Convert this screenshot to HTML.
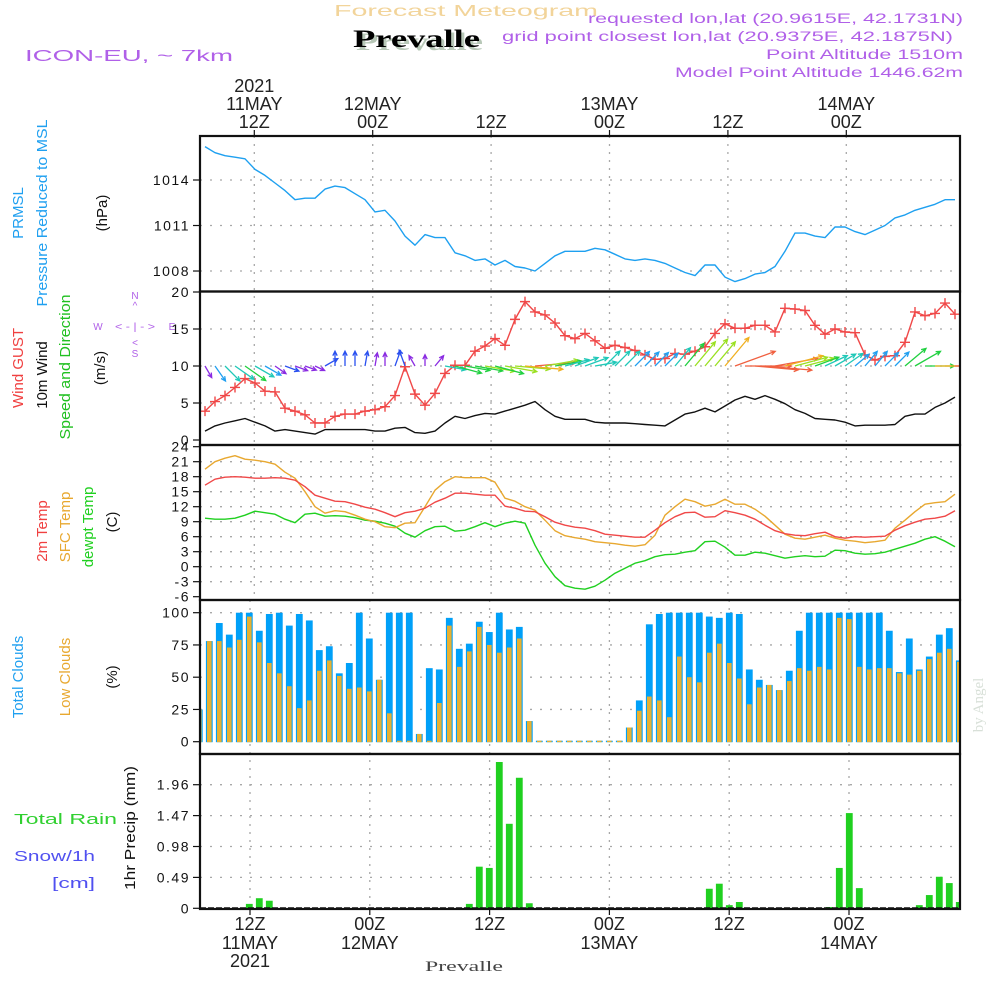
<!DOCTYPE html>
<html><head><meta charset="utf-8">
<style>
html,body{margin:0;padding:0;background:#fff;}
svg{display:block;font-family:"Liberation Sans",sans-serif;}
</style></head>
<body>
<svg id="chart" width="1000" height="1000" viewBox="0 0 1000 1000" xmlns="http://www.w3.org/2000/svg">
<rect x="0" y="0" width="1000" height="1000" fill="#fff"/>
<text x="334" y="16" font-size="16" fill="#f2d49a" textLength="264" lengthAdjust="spacingAndGlyphs">Forecast Meteogram</text>
<text x="356" y="50" font-family="Liberation Serif,serif" font-weight="bold" font-size="25" fill="#b8c8b8" textLength="127" lengthAdjust="spacingAndGlyphs">Prevalle</text>
<text x="353" y="47" font-family="Liberation Serif,serif" font-weight="bold" font-size="25" fill="#000" textLength="127" lengthAdjust="spacingAndGlyphs">Prevalle</text>
<text x="25" y="61" font-size="16" fill="#b060e8" textLength="208" lengthAdjust="spacingAndGlyphs">ICON-EU, ~ 7km</text>
<text x="588" y="23" font-size="13.5" fill="#b060e8" textLength="375" lengthAdjust="spacingAndGlyphs">requested lon,lat (20.9615E, 42.1731N)</text>
<text x="502" y="41" font-size="13.5" fill="#b060e8" textLength="451" lengthAdjust="spacingAndGlyphs">grid point closest lon,lat (20.9375E, 42.1875N)</text>
<text x="766" y="59" font-size="13.5" fill="#b060e8" textLength="197" lengthAdjust="spacingAndGlyphs">Point Altitude 1510m</text>
<text x="675" y="77" font-size="13.5" fill="#b060e8" textLength="288" lengthAdjust="spacingAndGlyphs">Model Point Altitude 1446.62m</text>
<g font-size="15">
<text transform="translate(23,213) rotate(-90)" text-anchor="middle" fill="#20a0f0">PRMSL</text>
<text transform="translate(47,213) rotate(-90)" text-anchor="middle" fill="#20a0f0" textLength="187" lengthAdjust="spacingAndGlyphs">Pressure Reduced to MSL</text>
<text transform="translate(107,213) rotate(-90)" text-anchor="middle" fill="#111">(hPa)</text>
<text transform="translate(23,368) rotate(-90)" text-anchor="middle" fill="#f04040">Wind GUST</text>
<text transform="translate(47,375) rotate(-90)" text-anchor="middle" fill="#111">10m Wind</text>
<text transform="translate(70,367) rotate(-90)" text-anchor="middle" fill="#20c020" textLength="145" lengthAdjust="spacingAndGlyphs">Speed and Direction</text>
<text transform="translate(105,368) rotate(-90)" text-anchor="middle" fill="#111">(m/s)</text>
<text transform="translate(47,531) rotate(-90)" text-anchor="middle" fill="#f04040">2m Temp</text>
<text transform="translate(70,527) rotate(-90)" text-anchor="middle" fill="#e8a830">SFC Temp</text>
<text transform="translate(93,527) rotate(-90)" text-anchor="middle" fill="#20d020">dewpt Temp</text>
<text transform="translate(117,522) rotate(-90)" text-anchor="middle" fill="#111">(C)</text>
<text transform="translate(23,677) rotate(-90)" text-anchor="middle" fill="#20a0f0">Total Clouds</text>
<text transform="translate(70,677) rotate(-90)" text-anchor="middle" fill="#e8a830">Low Clouds</text>
<text transform="translate(117,677) rotate(-90)" text-anchor="middle" fill="#111">(%)</text>
<text transform="translate(135,828) rotate(-90)" text-anchor="middle" fill="#111" textLength="124" lengthAdjust="spacingAndGlyphs">1hr Precip (mm)</text>
<text x="14" y="824" fill="#30d030" textLength="103" lengthAdjust="spacingAndGlyphs">Total   Rain</text>
<text x="14" y="861" fill="#5050f0" textLength="81" lengthAdjust="spacingAndGlyphs">Snow/1h</text>
<text x="52" y="888" fill="#5050f0" textLength="43" lengthAdjust="spacingAndGlyphs">[cm]</text>
</g>
<g font-size="10" fill="#b060e8" text-anchor="middle">
<text x="135" y="299">N</text><text x="135" y="309">^</text>
<text x="98" y="330">W</text><text x="135" y="330" textLength="40" lengthAdjust="spacingAndGlyphs">&lt; - | - &gt;</text><text x="172" y="330">E</text>
<text x="135" y="346">&lt;</text><text x="135" y="357">S</text>
</g>
<text transform="translate(983,705) rotate(-90)" text-anchor="middle" font-family="Liberation Serif,serif" font-size="15" fill="#d8e0d8">by Angel</text>
<text x="425" y="971" font-family="Liberation Serif,serif" font-size="15" fill="#444" textLength="78" lengthAdjust="spacingAndGlyphs">Prevalle</text>
<g id="plot"></g>
</svg>
<script>
const pressure = [1016.2,1015.8,1015.6,1015.5,1015.4,1014.7,1014.3,1013.8,1013.3,1012.7,
1012.8,1012.8,1013.4,1013.6,1013.5,1013.1,1012.7,1011.9,1012.0,1011.3,
1010.3,1009.7,1010.4,1010.2,1010.2,1009.2,1009.0,1008.7,1008.8,1008.4,
1008.7,1008.3,1008.2,1008.0,1008.5,1009.0,1009.3,1009.3,1009.3,1009.5,
1009.4,1009.1,1008.8,1008.7,1008.8,1008.7,1008.5,1008.2,1007.9,1007.7,
1008.4,1008.4,1007.6,1007.3,1007.5,1007.8,1007.9,1008.3,1009.3,1010.5,
1010.5,1010.3,1010.2,1010.9,1010.9,1010.6,1010.4,1010.7,1011.0,1011.5,
1011.7,1012.0,1012.2,1012.4,1012.7,1012.7];
const gust = [3.9,5.2,6.0,7.1,8.3,7.7,6.6,6.5,4.3,3.9,
3.4,2.3,2.3,3.2,3.5,3.5,3.9,4.1,4.5,6.0,
9.9,6.2,4.7,6.3,9.0,10.1,10.1,12.0,12.7,13.7,
12.8,16.3,18.7,17.3,16.9,15.8,14.1,13.7,14.4,13.4,
12.4,12.8,12.5,12.1,11.5,10.9,11.0,11.7,11.6,12.0,
12.6,14.4,15.7,15.1,15.1,15.5,15.5,14.6,17.8,17.7,
17.5,15.5,14.3,15.0,14.6,14.5,11.5,10.8,11.3,11.4,
13.2,17.3,16.8,17.1,18.5,17.0];
const wind10 = [1.2,1.9,2.3,2.6,2.9,2.4,1.9,1.2,1.4,1.2,
1.0,0.8,1.4,1.4,1.4,1.4,1.4,1.2,1.2,1.6,
1.7,1.0,0.9,1.2,2.3,3.2,2.9,3.3,3.6,3.5,
3.9,4.3,4.7,5.2,4.1,3.2,2.8,2.8,2.8,2.4,
2.3,2.3,2.3,2.2,2.1,2.0,1.9,2.7,3.5,3.8,
4.3,3.8,4.6,5.4,5.9,5.5,6.0,5.5,4.9,4.1,
3.6,2.9,2.8,2.7,2.4,1.9,2.0,2.0,2.0,2.1,
3.2,3.5,3.5,4.4,5.0,5.8];
const windDir = [150,145,135,125,125,120,120,125,110,110,
110,115,60,0,0,0,10,10,0,20,
340,330,0,40,100,105,100,100,100,105,
100,95,95,85,80,80,75,70,70,80,
45,45,45,45,45,45,45,40,40,40,
40,40,40,70,90,95,95,80,75,75,
75,70,65,60,55,50,40,40,45,45,
50,60,90,90,90,90];
const temp2m = [16.3,17.5,17.9,18.0,17.9,17.7,17.7,17.8,17.7,17.3,
16.0,14.3,13.7,13.1,13.0,12.5,11.9,11.5,10.8,10.0,
10.8,11.1,11.7,12.9,13.7,14.7,14.7,14.5,14.3,14.3,
12.1,11.7,11.1,11.0,10.0,8.9,8.3,7.9,7.7,7.2,
6.5,6.3,6.1,5.9,5.9,7.3,8.8,10.0,10.8,10.9,
9.9,10.0,11.2,10.8,10.3,9.5,8.3,7.2,6.6,6.3,
6.2,6.6,6.9,6.0,5.7,6.0,5.9,6.0,6.1,7.3,
8.2,8.9,9.5,9.7,10.1,11.2];
const sfcTemp = [19.5,21.0,21.7,22.2,21.5,21.3,21.0,20.5,18.9,17.7,
15.0,12.0,10.7,11.2,11.0,10.3,9.5,9.0,8.0,7.8,
8.7,8.8,12.0,15.3,17.0,18.0,17.8,17.8,17.8,16.9,
13.7,13.1,12.0,11.3,9.3,7.2,6.2,5.8,5.5,5.0,
4.8,4.6,4.3,4.1,4.4,6.3,10.3,12.0,13.5,13.0,
12.1,12.5,13.5,12.5,12.5,11.5,10.1,8.3,6.5,5.7,
5.5,5.9,6.3,5.7,5.3,5.1,4.8,5.0,5.3,7.7,
9.3,11.0,12.5,12.8,13.0,14.5];
const dewpt = [9.7,9.5,9.5,9.7,10.3,11.1,10.8,10.5,9.5,8.8,
10.5,10.7,10.1,10.2,10.1,9.8,9.3,9.1,8.7,8.1,
6.7,5.9,7.2,8.0,8.1,7.1,7.3,8.0,8.8,8.0,
8.7,9.1,8.7,4.3,0.7,-2.0,-3.8,-4.3,-4.5,-3.9,
-2.7,-1.3,-0.3,0.7,1.2,2.0,2.4,2.5,2.9,3.2,
5.0,5.1,3.9,2.3,2.3,2.9,2.7,2.2,1.7,2.0,
2.2,2.0,2.1,3.3,3.2,2.7,2.5,2.6,2.9,3.5,
4.1,4.7,5.5,6.0,5.1,4.0];
const totalClouds = [25,78,92,83,100,100,86,99,100,90,
99,94,71,74,53,61,100,80,48,100,
100,100,6,57,56,96,72,76,93,85,
100,87,89,16,0,0,0,0,0,0,
0,0,0,11,32,91,99,100,100,100,
100,97,96,100,99,56,48,44,40,55,
86,100,100,100,100,100,100,100,100,86,
54,80,56,66,83,88,63];
const lowClouds = [25,78,78,73,79,97,77,61,53,43,
26,32,55,63,51,41,42,39,48,22,
0.5,0.5,6,0.5,30,90,58,70,89,75,
69,73,80,16,0,0,0,0,0,0,
0,0,0,11,24,35,32,19,66,50,
46,69,76,61,49,29,42,44,40,47,
57,55,58,56,96,95,58,56,57,57,
53,52,55,64,69,72,62];
const precip = [0,0,0,0,0,0.07,0.16,0.12,0,0,
0,0,0,0,0,0,0,0,0,0,
0,0,0,0,0,0,0,0.07,0.66,0.64,
2.32,1.34,2.07,0.08,0,0,0,0,0,0,
0,0,0,0,0,0,0,0,0,0,
0,0.31,0.39,0.05,0.10,0,0,0,0,0,
0,0,0,0.02,0.64,1.51,0.32,0,0,0,
0,0,0.05,0.21,0.50,0.40,0.10];
const pressureTicks = [1008,1011,1014];
const windTicks = [0,5,10,15,20];
const tempTicks = [-6,-3,0,3,6,9,12,15,18,21,24];
const cloudTicks = [0,25,50,75,100];
const precipTicks = [0,0.49,0.98,1.47,1.96];
const precipTickLabels = ["0","0.49","0.98","1.47","1.96"];
const timeTicksTop = [["2021","11MAY","12Z"],["","12MAY","00Z"],["","","12Z"],["","13MAY","00Z"],["","","12Z"],["","14MAY","00Z"]];
const timeTicksBottom = [["12Z","11MAY","2021"],["00Z","12MAY",""],["12Z","",""],["00Z","13MAY",""],["12Z","",""],["00Z","14MAY",""]];

const X0 = 200, X1 = 960;
const xPt = i => 205 + 10 * i;
const xBar = j => 199.3 + 10 * j;
const xTickTop = k => 254.3 + 118.4 * k;
const xTickBot = k => 250 + 119.8 * k;
const yP = v => 180 + (1014 - v) * 15.17;
const yW = v => 440 - v * 7.4;
const yT = v => 566.7 - v * 5;
const yC = v => 741.7 - v * 1.29;
const yR = v => 908.3 - v * 63.06;

const NS = "http://www.w3.org/2000/svg";
const plot = document.getElementById('plot');
function mk(tag, attrs, parent) {
  const e = document.createElementNS(NS, tag);
  for (const k in attrs) e.setAttribute(k, attrs[k]);
  (parent || plot).appendChild(e);
  return e;
}
const clip = mk('clipPath', {id: 'pc'});
mk('rect', {x: X0, y: 130, width: X1 - X0, height: 790}, clip);

const panels = [
  {name: 'pressure-panel', top: 136, bot: 291.5},
  {name: 'wind-panel', top: 291.5, bot: 445},
  {name: 'temp-panel', top: 445, bot: 600},
  {name: 'cloud-panel', top: 600, bot: 754},
  {name: 'precip-panel', top: 754, bot: 909}
];

function hgrid(vals, sc, name) {
  vals.forEach(v => {
    const l = mk('line', {x1: X0, x2: X1, y1: sc(v), y2: sc(v), stroke: '#a8a8a8', 'stroke-width': 1.3, 'stroke-dasharray': '2,8'});
    
    
  });
}
hgrid(pressureTicks, yP, 'pressure-gridline');
hgrid([5,10,15], yW, 'wind-gridline');
hgrid(tempTicks.filter(v => v > -6 && v < 24), yT, 'temp-gridline');
hgrid([25,50,75,100], yC, 'cloud-gridline');
hgrid(precipTicks.filter(v => v > 0), yR, 'precip-gridline');
for (let k = 0; k < 6; k++) {
  const a = mk('line', {x1: xTickTop(k), x2: xTickTop(k), y1: 136, y2: 600, stroke: '#a8a8a8', 'stroke-width': 1.3, 'stroke-dasharray': '2,6'});
  
  
  const b = mk('line', {x1: xTickBot(k), x2: xTickBot(k), y1: 600, y2: 909, stroke: '#a8a8a8', 'stroke-width': 1.3, 'stroke-dasharray': '2,6'});
  
  
}

function yticks(vals, labels, sc, name) {
  vals.forEach((v, i) => {
    mk('line', {x1: 193, x2: 200, y1: sc(v), y2: sc(v), stroke: '#111', 'stroke-width': 1.2});
    const t = mk('text', {x: 190, y: sc(v) + 5, 'text-anchor': 'end', 'font-size': 14, fill: '#111', 'letter-spacing': 1.5});
    t.textContent = labels[i];
    
    
  });
}
yticks(pressureTicks, pressureTicks.map(String), yP, 'pressure-tick-label');
yticks(windTicks, windTicks.map(String), yW, 'wind-tick-label');
yticks(tempTicks, tempTicks.map(String), yT, 'temp-tick-label');
yticks(cloudTicks, cloudTicks.map(String), yC, 'cloud-tick-label');
yticks(precipTicks, precipTickLabels, yR, 'precip-tick-label');

timeTicksTop.forEach((lab, k) => {
  mk('line', {x1: xTickTop(k), x2: xTickTop(k), y1: 130, y2: 136, stroke: '#111', 'stroke-width': 1.2});
  [92, 110, 128].forEach((yy, r) => {
    if (!lab[r]) return;
    const t = mk('text', {x: xTickTop(k), y: yy, 'text-anchor': 'middle', 'font-size': 18, fill: '#222'});
    t.textContent = lab[r];
    
    
  });
});
timeTicksBottom.forEach((lab, k) => {
  mk('line', {x1: xTickBot(k), x2: xTickBot(k), y1: 909, y2: 915, stroke: '#111', 'stroke-width': 1.2});
  [930, 949, 967].forEach((yy, r) => {
    if (!lab[r]) return;
    const t = mk('text', {x: xTickBot(k), y: yy, 'text-anchor': 'middle', 'font-size': 18, fill: '#222'});
    t.textContent = lab[r];
    
    
  });
});

const g = mk('g', {'clip-path': 'url(#pc)'});
function line(arr, sx, sy, color, name) {
  const d = arr.map((v, i) => (i ? 'L' : 'M') + sx(i).toFixed(1) + ',' + sy(v).toFixed(1)).join('');
  const p = mk('path', {d: d, fill: 'none', stroke: color, 'stroke-width': 1.4, 'stroke-linejoin': 'round'}, g);
  
  
}

line(pressure, xPt, yP, '#1ea0f0', 'pressure-line');

line(wind10, xPt, yW, '#111', 'wind10-line');
line(gust, xPt, yW, '#f04848', 'gust-line');
gust.forEach((v, i) => {
  const cx = xPt(i), cy = yW(v);
  const m = mk('path', {d: `M${cx-5},${cy}H${cx+5}M${cx},${cy-5}V${cy+5}`, stroke: '#f04848', 'stroke-width': 1.4, fill: 'none'}, g);
  
  
});
function arrowColor(s) {
  if (s < 1.3) return '#8a2be2';
  if (s < 1.8) return '#2a50f0';
  if (s < 2.3) return '#22a0f0';
  if (s < 2.9) return '#20c8b8';
  if (s < 3.6) return '#20d040';
  if (s < 4.4) return '#9ae020';
  if (s < 5.2) return '#f0b020';
  return '#f06040';
}
windDir.forEach((d, i) => {
  const s = wind10[i];
  const L = 5 + s * 7;
  const a = d * Math.PI / 180;
  const x0 = xPt(i), y0 = yW(10);
  const x1 = x0 + L * Math.sin(a), y1 = y0 - L * Math.cos(a);
  const h1 = a + Math.PI - 0.45, h2 = a + Math.PI + 0.45;
  const c = arrowColor(s);
  const p = mk('path', {d: `M${x0.toFixed(1)},${y0.toFixed(1)}L${x1.toFixed(1)},${y1.toFixed(1)}M${(x1+5*Math.sin(h1)).toFixed(1)},${(y1-5*Math.cos(h1)).toFixed(1)}L${x1.toFixed(1)},${y1.toFixed(1)}L${(x1+5*Math.sin(h2)).toFixed(1)},${(y1-5*Math.cos(h2)).toFixed(1)}`, stroke: c, 'stroke-width': 1.3, fill: 'none'}, g);
  
  
});

line(dewpt, xPt, yT, '#20d020', 'dewpoint-line');
line(sfcTemp, xPt, yT, '#e8a830', 'sfc-temp-line');
line(temp2m, xPt, yT, '#f04848', 't2m-line');

totalClouds.forEach((v, j) => {
  const yv = Math.min(yC(v), yC(0) - 1);
  const r = mk('rect', {x: xBar(j) - 3.4, y: yv, width: 6.8, height: yC(0) - yv + 0.5, fill: '#00a0f8'}, g);
  
  
});
lowClouds.forEach((v, j) => {
  const yv = Math.min(yC(v), yC(0) - 1);
  const r = mk('rect', {x: xBar(j) - 2.3, y: yv, width: 4.6, height: yC(0) - yv + 0.5, fill: '#e8b030'}, g);
  
  
});

precip.forEach((v, j) => {
  if (v <= 0) return;
  const r = mk('rect', {x: xBar(j) - 3.4, y: yR(v), width: 6.8, height: yR(0) - yR(v), fill: '#20d020'}, g);
  
  
});
const zl = mk('line', {x1: X0, x2: X1, y1: yR(0), y2: yR(0), stroke: '#111', 'stroke-width': 2, 'stroke-dasharray': '6,2'});



panels.forEach(p => {
  const r = mk('rect', {x: X0, y: p.top, width: X1 - X0, height: p.bot - p.top, fill: 'none', stroke: '#111', 'stroke-width': 2.2});
  
  
});
</script>
</body></html>
